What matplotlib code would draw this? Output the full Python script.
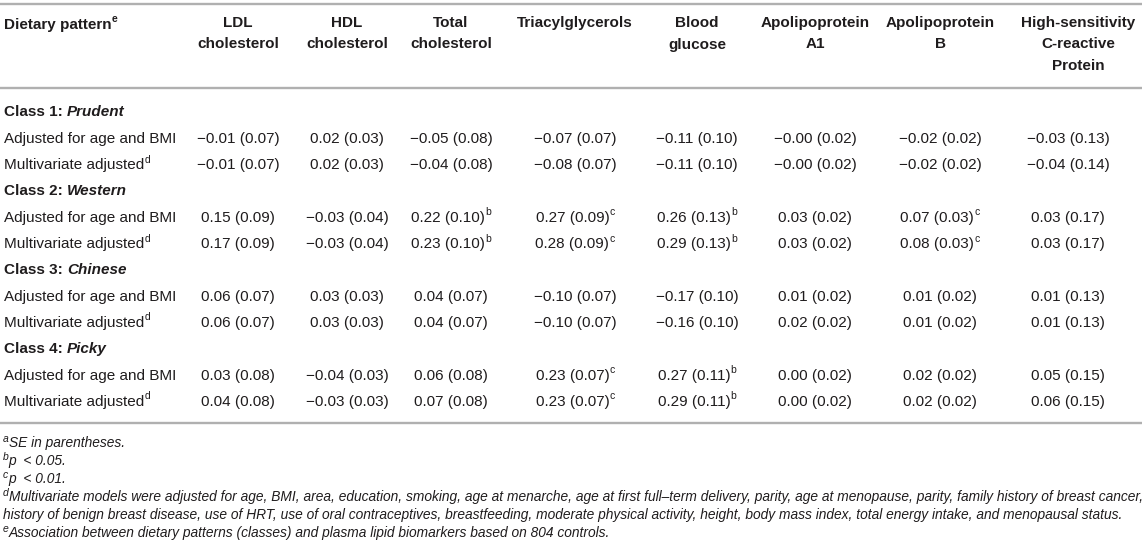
import matplotlib
matplotlib.use("Agg")
import matplotlib.pyplot as plt
import numpy as np

plt.rcParams['font.family'] = ['Liberation Sans', 'DejaVu Sans']

# column headers (one list entry per printed line)
headers = [["LDL", "cholesterol"], ["HDL", "cholesterol"], ["Total", "cholesterol"],
           ["Triacylglycerols"], ["Blood", "glucose"], ["Apolipoprotein", "A1"],
           ["Apolipoprotein", "B"], ["High-sensitivity", "C-reactive", "Protein"]]
class_names = ["Class 1: ", "Class 2: ", "Class 3: ", "Class 4: "]
class_styles = ["Prudent", "Western", "Chinese", "Picky"]
row_labels = ["Adjusted for age and BMI", "Multivariate adjusted"]
row_sups = ["", "d"]

# estimates, SE and significance marks: rows = [age/BMI adjusted, multivariate]
prudent_est = [[-0.01, 0.02, -0.05, -0.07, -0.11, -0.00, -0.02, -0.03],
               [-0.01, 0.02, -0.04, -0.08, -0.11, -0.00, -0.02, -0.04]]
prudent_se = [[0.07, 0.03, 0.08, 0.07, 0.10, 0.02, 0.02, 0.13],
              [0.07, 0.03, 0.08, 0.07, 0.10, 0.02, 0.02, 0.14]]
prudent_sig = [["", "", "", "", "", "", "", ""],
               ["", "", "", "", "", "", "", ""]]

western_est = [[0.15, -0.03, 0.22, 0.27, 0.26, 0.03, 0.07, 0.03],
               [0.17, -0.03, 0.23, 0.28, 0.29, 0.03, 0.08, 0.03]]
western_se = [[0.09, 0.04, 0.10, 0.09, 0.13, 0.02, 0.03, 0.17],
              [0.09, 0.04, 0.10, 0.09, 0.13, 0.02, 0.03, 0.17]]
western_sig = [["", "", "b", "c", "b", "", "c", ""],
               ["", "", "b", "c", "b", "", "c", ""]]

chinese_est = [[0.06, 0.03, 0.04, -0.10, -0.17, 0.01, 0.01, 0.01],
               [0.06, 0.03, 0.04, -0.10, -0.16, 0.02, 0.01, 0.01]]
chinese_se = [[0.07, 0.03, 0.07, 0.07, 0.10, 0.02, 0.02, 0.13],
              [0.07, 0.03, 0.07, 0.07, 0.10, 0.02, 0.02, 0.13]]
chinese_sig = [["", "", "", "", "", "", "", ""],
               ["", "", "", "", "", "", "", ""]]

picky_est = [[0.03, -0.04, 0.06, 0.23, 0.27, 0.00, 0.02, 0.05],
             [0.04, -0.03, 0.07, 0.23, 0.29, 0.00, 0.02, 0.06]]
picky_se = [[0.08, 0.03, 0.08, 0.07, 0.11, 0.02, 0.02, 0.15],
            [0.08, 0.03, 0.08, 0.07, 0.11, 0.02, 0.02, 0.15]]
picky_sig = [["", "", "", "c", "b", "", "", ""],
             ["", "", "", "c", "b", "", "", ""]]

footnote_sups = ["a", "b", "c", "d", "", "e"]
footnote_texts = [
    "SE in parentheses.",
    "p  < 0.05.",
    "p  < 0.01.",
    "Multivariate models were adjusted for age, BMI, area, education, smoking, age at menarche, "
    "age at first full\u2013term delivery, parity, age at menopause, parity, family history of breast cancer,",
    "history of benign breast disease, use of HRT, use of oral contraceptives, breastfeeding, moderate "
    "physical activity, height, body mass index, total energy intake, and menopausal status.",
    "Association between dietary patterns (classes) and plasma lipid biomarkers based on 804 controls.",
]

est = [prudent_est, western_est, chinese_est, picky_est]
se = [prudent_se, western_se, chinese_se, picky_se]
sig = [prudent_sig, western_sig, chinese_sig, picky_sig]

W, H = 1146, 552
fig = plt.figure(figsize=(W / 100, H / 100), dpi=100)
ax = fig.add_axes([0, 0, 1, 1])
ax.set_xlim(0, W)
ax.set_ylim(H, 0)
ax.axis("off")
renderer = fig.canvas.get_renderer()

ink = "#1f1c1d"
base = 11.0
small = 7.5
foot = 9.9

hdr_x = [238, 347, 451, 575, 697, 815, 940, 1078]
val_x = [238, 347, 451, 575, 697, 815, 940, 1068]


def fmt(v, s):
    t = "%.2f (%.2f)" % (v, s)
    return t.replace("-", "\u2212")


def runs(x, y, pieces, ha="left", rise=6.5):
    # pieces: (text, size, weight, style, is_sup); y is the visual centre of the line
    base_y = y + 5.5
    arts = []
    widths = []
    for text, size, weight, style, sup in pieces:
        t = ax.text(0, 0, text, fontsize=size, fontweight=weight, fontstyle=style,
                    color=ink, ha="left", va="baseline")
        widths.append(t.get_window_extent(renderer).width)
        arts.append((t, sup))
    total = sum(widths)
    cx = x - total / 2 if ha == "center" else x
    for (t, sup), w in zip(arts, widths):
        t.set_position((cx, base_y - (rise if sup else 0)))
        cx += w


# table rules
for y in [4, 88, 423]:
    ax.plot([0, 1142], [y, y], color="#b0b0b0", lw=1.7, solid_capstyle="butt")

# header
runs(4, 23, [("Dietary pattern", base, "bold", "normal", False),
             ("e", small, "bold", "normal", True)])
for j, lines in enumerate(headers):
    for k, line in enumerate(lines):
        ax.text(hdr_x[j], 23 + k * 21.5, line, fontsize=base, fontweight="bold",
                color=ink, ha="center", va="center")

# body
y = 111
step = 26.3
for c in range(4):
    runs(4, y, [(class_names[c], base, "bold", "normal", False),
                (class_styles[c], base, "bold", "italic", False)])
    y += step
    for r in range(2):
        runs(4, y, [(row_labels[r], base, "normal", "normal", False),
                    (row_sups[r], small, "normal", "normal", True)])
        for j in range(8):
            runs(val_x[j], y, [(fmt(est[c][r][j], se[c][r][j]), base, "normal", "normal", False),
                               (sig[c][r][j], small, "normal", "normal", True)], ha="center")
        y += step

# footnotes
fy = 441
for s, t in zip(footnote_sups, footnote_texts):
    runs(3, fy, [(s, 7.5, "normal", "italic", True),
                 (t, foot, "normal", "italic", False)], rise=5)
    fy += 18

fig.savefig("out.png", dpi=100)
